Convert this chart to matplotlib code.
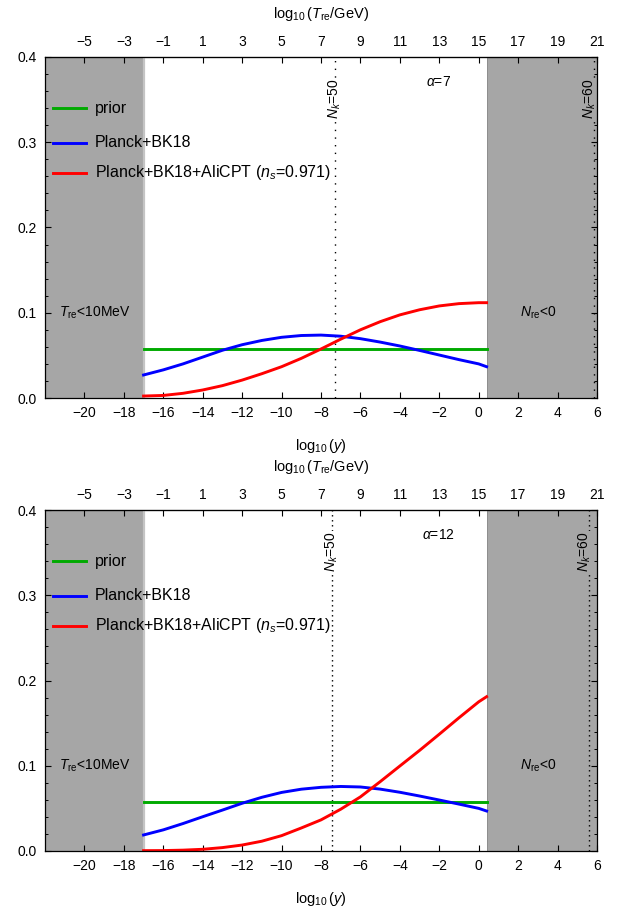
import matplotlib
matplotlib.use("Agg")
import matplotlib.pyplot as plt
from matplotlib.ticker import MultipleLocator, FixedLocator

plt.rcParams['font.family'] = ['Liberation Sans', 'DejaVu Sans']
plt.rcParams['mathtext.fontset'] = 'custom'
plt.rcParams['mathtext.rm'] = 'Liberation Sans'
plt.rcParams['mathtext.it'] = 'Liberation Sans:italic'
plt.rcParams['mathtext.bf'] = 'Liberation Sans:bold'
plt.rcParams['axes.unicode_minus'] = True

# ---------------- data ----------------
x_vals = [-17, -16, -15, -14, -13, -12, -11, -10, -9, -8, -7, -6, -5, -4, -3, -2, -1, 0, 0.4]

prior_top = [0.0575] * len(x_vals)
blue_top = [0.027, 0.033, 0.040, 0.048, 0.056, 0.0625, 0.0675, 0.0712, 0.0733, 0.0738,
            0.0725, 0.0696, 0.0656, 0.061, 0.0558, 0.0504, 0.045, 0.040, 0.0367]
red_top = [0.0023, 0.003, 0.0055, 0.0094, 0.0145, 0.021, 0.0285, 0.0367, 0.0465, 0.0575,
           0.069, 0.080, 0.0895, 0.0975, 0.1035, 0.108, 0.1107, 0.1118, 0.1118]

prior_bot = [0.0578] * len(x_vals)
blue_bot = [0.0188, 0.0248, 0.0322, 0.0402, 0.048, 0.056, 0.063, 0.0687, 0.0725, 0.0747,
            0.0757, 0.0751, 0.0726, 0.0689, 0.0645, 0.0598, 0.055, 0.050, 0.0469]
red_bot = [0.0004, 0.0005, 0.001, 0.002, 0.004, 0.007, 0.0115, 0.018, 0.027, 0.0365,
           0.049, 0.0635, 0.0813, 0.0997, 0.118, 0.137, 0.1563, 0.175, 0.181]

series_labels = ["prior", "Planck+BK18", r"Planck+BK18+AliCPT ($n_s$=0.971)"]
series_colors = ["#00AA00", "#0000FF", "#FF0000"]
alpha_labels = [r"$\alpha$=7", r"$\alpha$=12"]
nk50_pos = [-7.3, -7.45]
nk60_pos = [5.83, 5.6]

bottom_ticks = [-20, -18, -16, -14, -12, -10, -8, -6, -4, -2, 0, 2, 4, 6]
top_ticks = [-5, -3, -1, 1, 3, 5, 7, 9, 11, 13, 15, 17, 19, 21]

xmin, xmax = -22, 6
left_excl = -17
right_excl = 0.4
gray = "#A6A6A6"

fig = plt.figure(figsize=(6.3, 9.09), dpi=100)
W, H = 630, 909
def rect(l, t, r, b):
    return [l / W, 1 - b / H, (r - l) / W, (b - t) / H]

ax_top = fig.add_axes(rect(45, 57, 597, 398))
ax_bot = fig.add_axes(rect(45, 510, 597, 851))

panels = [
    (ax_top, prior_top, blue_top, red_top, alpha_labels[0], nk50_pos[0], nk60_pos[0], (0, (1, 4.5))),
    (ax_bot, prior_bot, blue_bot, red_bot, alpha_labels[1], nk50_pos[1], nk60_pos[1], (0, (1, 2.6))),
]

for ax, pr, bl, rd, alab, n50, n60, dots in panels:
    ax.set_xlim(xmin, xmax)
    ax.set_ylim(0, 0.4)
    ax.axvspan(xmin, left_excl, color=gray, lw=0, zorder=0)
    ax.axvspan(right_excl, xmax, color=gray, lw=0, zorder=0)
    ax.axvline(left_excl, color="#C4C4C4", lw=1.6, zorder=1)
    ax.axvline(right_excl, color="#8E8E8E", lw=0.7, zorder=1)

    ax.axvline(n50, color="black", lw=1.0, ls=dots, zorder=1)
    ax.axvline(n60, color="black", lw=1.0, ls=dots, zorder=1)

    for yv, c in zip([pr, bl, rd], series_colors):
        ax.plot(x_vals, yv, color=c, lw=2.1, zorder=3, solid_joinstyle='round')

    # legend drawn manually
    rows = [0.8496, 0.7487, 0.6607]
    for yy, c, lab in zip(rows, series_colors, series_labels):
        ax.plot([0.0145, 0.0743], [yy, yy], color=c, lw=2.1, transform=ax.transAxes, zorder=4)
        ax.text(0.0906, yy, lab, transform=ax.transAxes, fontsize=11.5, va='center', ha='left', zorder=4)

    ax.text(-2.05, 0.371, alab, fontsize=10, ha='center', va='center')
    ax.text(n50, 0.351, r"$N_k$=50", rotation=90, fontsize=10, ha='center', va='center',
            bbox=dict(facecolor='white', edgecolor='none', pad=0.3), zorder=2)
    ax.text(n60 - 0.2, 0.351, r"$N_k$=60", rotation=90, fontsize=10, ha='center', va='center',
            bbox=dict(facecolor=gray, edgecolor='none', pad=0.3), zorder=2)
    ax.text(-19.5, 0.1, r"$T_{\rm re}$<10MeV", fontsize=10, ha='center', va='center')
    ax.text(3.0, 0.1, r"$N_{\rm re}$<0", fontsize=10, ha='center', va='center')

    ax.xaxis.set_major_locator(FixedLocator(bottom_ticks))
    ax.yaxis.set_major_locator(MultipleLocator(0.1))
    ax.yaxis.set_minor_locator(MultipleLocator(0.02))
    ax.yaxis.set_major_formatter(matplotlib.ticker.FormatStrFormatter('%.1f'))
    ax.tick_params(axis='both', which='major', direction='in', length=4, width=0.8,
                   labelsize=10, top=False, right=True, pad=6)
    ax.tick_params(axis='y', which='minor', direction='in', length=2.5, width=0.7, right=True)
    for s in ax.spines.values():
        s.set_linewidth(0.9)
        s.set_zorder(5)
    ax.set_xlabel(r"$\log_{10}(y)$", fontsize=10.5, labelpad=12)

    sec = ax.secondary_xaxis('top', functions=(lambda v: v + 15, lambda v: v - 15))
    sec.xaxis.set_major_locator(FixedLocator(top_ticks))
    sec.tick_params(axis='x', which='major', direction='in', length=4, width=0.8, labelsize=10, pad=6)
    sec.tick_params(axis='x', which='minor', length=0)
    sec.set_xlabel(r"$\log_{10}(T_{\rm re}/{\rm GeV})$", fontsize=10.5, labelpad=12)

fig.savefig("out.png", dpi=100)
